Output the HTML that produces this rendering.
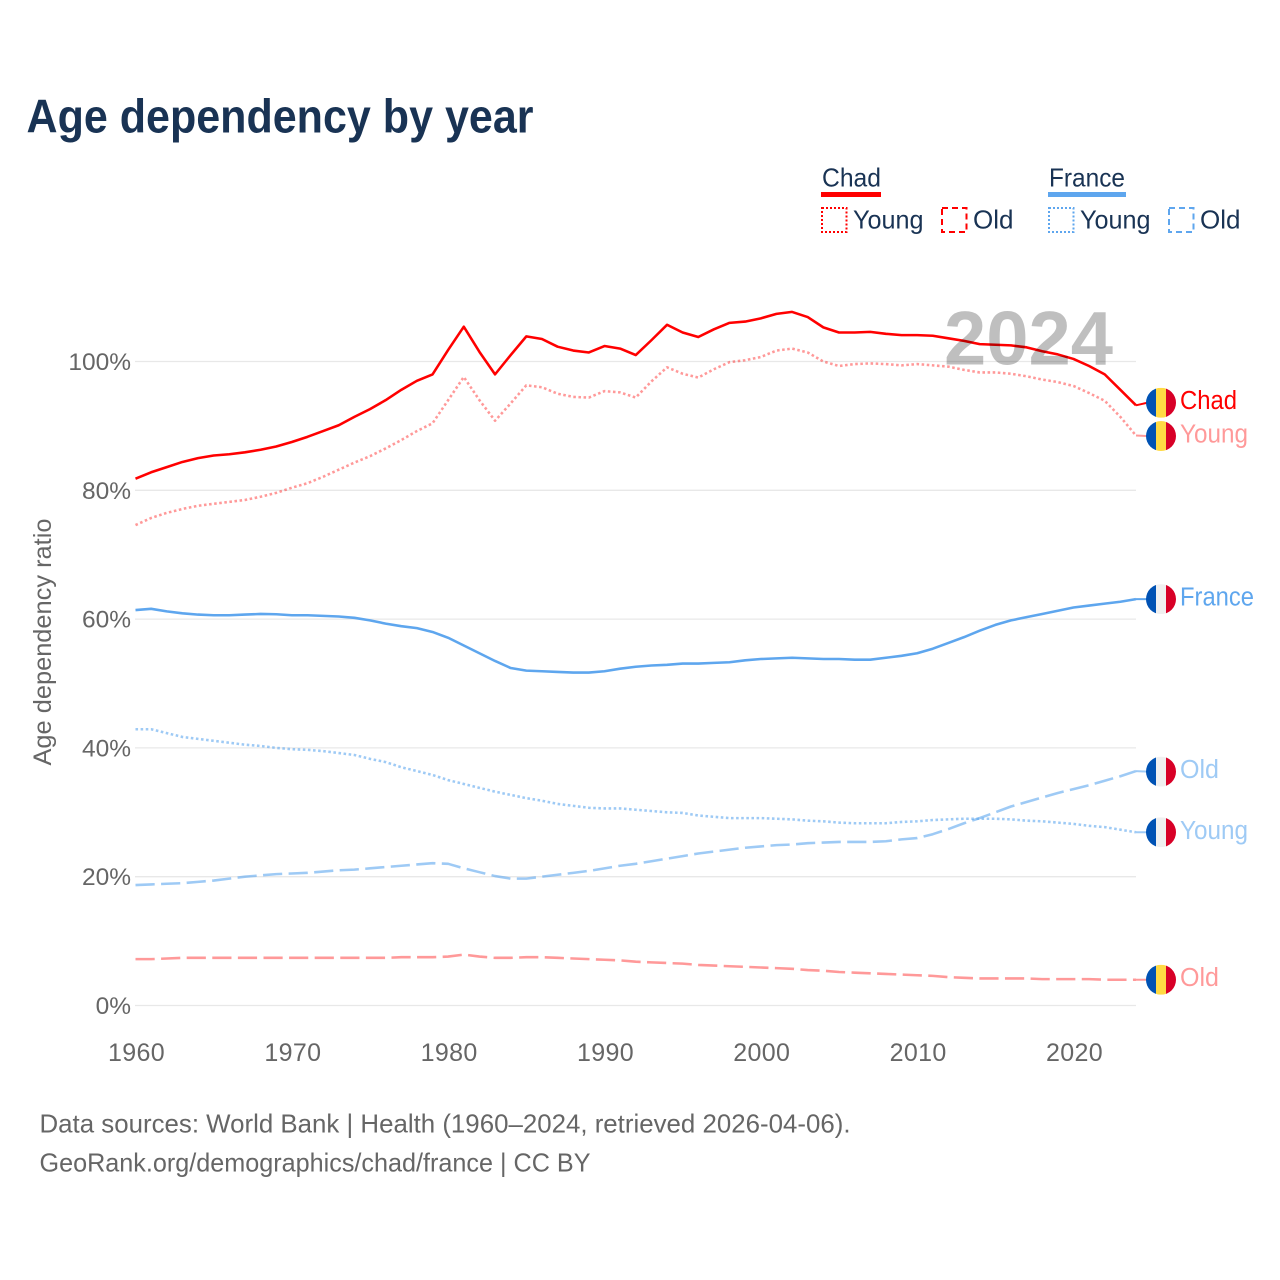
<!DOCTYPE html>
<html lang="en">
<head>
<meta charset="utf-8">
<title>Age dependency by year</title>
<style>
html,body{margin:0;padding:0;background:#fff;}
svg{display:block;font-family:"Liberation Sans",sans-serif;}
</style>
</head>
<body>
<svg id="chart" xmlns="http://www.w3.org/2000/svg" width="1280" height="1280" viewBox="0 0 1280 1280">
<rect width="1280" height="1280" fill="#ffffff"/>
<text x="26.5" y="132.5" font-size="47" font-weight="700" fill="#193354" textLength="507" lengthAdjust="spacingAndGlyphs">Age dependency by year</text>
<g font-size="26" fill="#193354">
  <text x="822" y="186.5" textLength="59" lengthAdjust="spacingAndGlyphs">Chad</text>
  <rect x="821" y="192" width="60" height="5" fill="#ff0000"/>
  <rect x="822" y="208" width="24.5" height="24" fill="none" stroke="#ff0000" stroke-width="2" stroke-dasharray="2 2"/>
  <text x="853" y="228.5" textLength="70.5" lengthAdjust="spacingAndGlyphs">Young</text>
  <rect x="942" y="208" width="24.5" height="24" fill="none" stroke="#ff0000" stroke-width="2" stroke-dasharray="6 4"/>
  <text x="973" y="228.5" textLength="40.5" lengthAdjust="spacingAndGlyphs">Old</text>
  <text x="1049" y="186.5" textLength="76" lengthAdjust="spacingAndGlyphs">France</text>
  <rect x="1048" y="192" width="78" height="5" fill="#5ea6ee"/>
  <rect x="1049" y="208" width="24.5" height="24" fill="none" stroke="#5ea6ee" stroke-width="2" stroke-dasharray="2 2"/>
  <text x="1080" y="228.5" textLength="70.5" lengthAdjust="spacingAndGlyphs">Young</text>
  <rect x="1169" y="208" width="24.5" height="24" fill="none" stroke="#5ea6ee" stroke-width="2" stroke-dasharray="6 4"/>
  <text x="1200" y="228.5" textLength="40.5" lengthAdjust="spacingAndGlyphs">Old</text>
</g>
<g id="grid"></g>
<g id="ylabels"></g>
<g id="xlabels"></g>
<text transform="translate(51,642) rotate(-90)" text-anchor="middle" font-size="25" fill="#666666" textLength="247" lengthAdjust="spacingAndGlyphs">Age dependency ratio</text>
<g id="series"></g>
<text x="944" y="364.5" font-size="76" font-weight="700" fill="#000000" fill-opacity="0.25">2024</text>
<g id="labels"></g>
<text x="39.5" y="1132.5" font-size="26" fill="#666666" textLength="811" lengthAdjust="spacingAndGlyphs">Data sources: World Bank | Health (1960–2024, retrieved 2026-04-06).</text>
<text x="39.5" y="1171.5" font-size="26" fill="#666666" textLength="551" lengthAdjust="spacingAndGlyphs">GeoRank.org/demographics/chad/france | CC BY</text>
</svg>
<script>
const years = [1960,1961,1962,1963,1964,1965,1966,1967,1968,1969,
  1970,1971,1972,1973,1974,1975,1976,1977,1978,1979,
  1980,1981,1982,1983,1984,1985,1986,1987,1988,1989,
  1990,1991,1992,1993,1994,1995,1996,1997,1998,1999,
  2000,2001,2002,2003,2004,2005,2006,2007,2008,2009,
  2010,2011,2012,2013,2014,2015,2016,2017,2018,2019,
  2020,2021,2022,2023,2024];
const chadTotal = [81.8,82.8,83.6,84.4,85.0,85.4,85.6,85.9,86.3,86.8,
  87.5,88.3,89.2,90.1,91.4,92.6,94.0,95.6,97.0,98.0,
  101.8,105.4,101.5,98.0,101.0,103.9,103.5,102.3,101.7,101.4,
  102.4,102.0,101.0,103.3,105.7,104.5,103.8,105.0,106.0,106.2,
  106.7,107.4,107.7,106.9,105.3,104.5,104.5,104.6,104.3,104.1,
  104.1,104.0,103.6,103.2,102.7,102.6,102.5,102.2,101.6,101.1,
  100.4,99.3,98.0,95.6,93.2];
const chadYoung = [74.6,75.7,76.5,77.1,77.6,77.9,78.2,78.5,79.0,79.6,
  80.4,81.1,82.1,83.2,84.3,85.3,86.5,87.8,89.2,90.4,
  94.0,97.6,94.0,90.8,93.5,96.3,96.0,95.0,94.5,94.4,
  95.4,95.2,94.4,96.9,99.1,98.1,97.5,98.8,99.9,100.2,
  100.7,101.7,102.0,101.4,100.0,99.3,99.6,99.7,99.6,99.4,
  99.6,99.4,99.2,98.7,98.3,98.3,98.1,97.7,97.2,96.8,
  96.2,95.1,93.9,91.4,88.5];
const chadOld = [7.2,7.2,7.3,7.4,7.4,7.4,7.4,7.4,7.4,7.4,
  7.4,7.4,7.4,7.4,7.4,7.4,7.4,7.5,7.5,7.5,
  7.6,7.9,7.6,7.4,7.4,7.5,7.5,7.4,7.3,7.2,
  7.1,7.0,6.8,6.7,6.6,6.5,6.3,6.2,6.1,6.0,
  5.9,5.8,5.7,5.5,5.4,5.2,5.1,5.0,4.9,4.8,
  4.7,4.6,4.4,4.3,4.2,4.2,4.2,4.2,4.1,4.1,
  4.1,4.1,4.0,4.0,4.0];
const franceTotal = [61.4,61.6,61.2,60.9,60.7,60.6,60.6,60.7,60.8,60.75,
  60.6,60.6,60.5,60.4,60.2,59.8,59.3,58.9,58.6,58.0,
  57.1,55.9,54.7,53.5,52.4,52.0,51.9,51.8,51.7,51.7,
  51.9,52.3,52.6,52.8,52.9,53.1,53.1,53.2,53.3,53.6,
  53.8,53.9,54.0,53.9,53.8,53.8,53.7,53.7,54.0,54.3,
  54.7,55.4,56.3,57.2,58.2,59.1,59.8,60.3,60.8,61.3,
  61.8,62.1,62.4,62.7,63.1];
const franceYoung = [42.9,42.9,42.3,41.7,41.4,41.1,40.8,40.5,40.3,40.0,
  39.8,39.7,39.5,39.2,38.9,38.3,37.8,37.0,36.4,35.8,
  35.0,34.4,33.8,33.2,32.7,32.2,31.8,31.3,31.0,30.7,
  30.6,30.6,30.4,30.2,30.0,29.9,29.5,29.3,29.1,29.1,
  29.1,29.0,28.9,28.7,28.6,28.4,28.3,28.3,28.3,28.5,
  28.6,28.8,28.9,29.0,29.0,29.0,28.9,28.7,28.6,28.4,
  28.2,27.9,27.7,27.3,26.9];
const franceOld = [18.7,18.8,18.9,19.0,19.2,19.4,19.7,20.0,20.2,20.4,
  20.5,20.6,20.8,21.0,21.1,21.3,21.5,21.7,21.9,22.1,
  22.0,21.3,20.7,20.1,19.7,19.7,20.0,20.3,20.6,20.9,
  21.3,21.7,22.0,22.4,22.8,23.2,23.6,23.9,24.2,24.5,
  24.7,24.9,25.0,25.2,25.3,25.4,25.4,25.4,25.5,25.8,
  26.0,26.6,27.4,28.3,29.1,30.0,30.9,31.6,32.3,33.0,
  33.6,34.2,34.9,35.6,36.4];
const yTicks = [0,20,40,60,80,100];
const yTickLabels = ["0%","20%","40%","60%","80%","100%"];
const xTicks = [1960,1970,1980,1990,2000,2010,2020];
const xTickLabels = ["1960","1970","1980","1990","2000","2010","2020"];

const NS = "http://www.w3.org/2000/svg";
const RED = "#ff0000";
const BLUE = "#5ea6ee";
const DOTS = "2.56 2.56";
const DASHES = "19.2 6.4";
const LINE_W = 2.56;
const xScale = v => 135.5 + (v - 1960) * (1136 - 135.5) / 64;
const yScale = v => 1005.5 - v * 6.44;

function make(tag, parent, attrs) {
  const el = document.createElementNS(NS, tag);
  for (const k in attrs) el.setAttribute(k, attrs[k]);
  parent.appendChild(el);
  return el;
}

const grid = document.getElementById("grid");
const yl = document.getElementById("ylabels");
yTicks.forEach((t, i) => {
  const line = make("line", grid, {x1: 135, x2: 1136, y1: yScale(t), y2: yScale(t), stroke: "#e8e8e8", "stroke-width": 1.3});
  
  
  const lab = make("text", yl, {x: 131, y: yScale(t) + 8.5, "text-anchor": "end", "font-size": 24.5, fill: "#666666"});
  
  
  lab.textContent = yTickLabels[i];
});
const xl = document.getElementById("xlabels");
xTicks.forEach((t, i) => {
  const lab = make("text", xl, {x: xScale(t) + 1, y: 1061, "text-anchor": "middle", "font-size": 25, fill: "#666666", "letter-spacing": "0.35"});
  
  
  lab.textContent = xTickLabels[i];
});

const seriesGroup = document.getElementById("series");
const labelGroup = document.getElementById("labels");

function drawLine(values, color, opacity, dash, width) {
  const pts = values.map((v, i) => xScale(years[i]).toFixed(2) + "," + yScale(v).toFixed(2)).join(" ");
  const line = make("polyline", seriesGroup, {points: pts, fill: "none", stroke: color, "stroke-opacity": opacity, "stroke-width": width, "stroke-linejoin": "round"});
  if (dash) line.setAttribute("stroke-dasharray", dash);
  return line;
}
function drawLeader(values, color, opacity, width, shift) {
  const y0 = yScale(values[values.length - 1]);
  const leader = make("line", seriesGroup, {x1: 1136, y1: y0, x2: 1147, y2: y0 + shift, stroke: color, "stroke-opacity": opacity, "stroke-width": width});
  return leader;
}
function drawFlag(cy, colors, clipId) {
  const g = make("g", labelGroup, {});
  const clip = make("clipPath", g, {id: clipId});
  make("circle", clip, {cx: 1161, cy: cy, r: 15});
  const sw = 10;
  colors.forEach((c, i) => {
    make("rect", g, {x: 1146 + i * sw, y: cy - 15, width: sw, height: 30, fill: c, "clip-path": "url(#" + clipId + ")"});
  });
  return g;
}
function drawLabel(cy, text, color, opacity, len) {
  const t = make("text", labelGroup, {x: 1180, y: cy + 6.5, "font-size": 25.5, fill: color, "fill-opacity": opacity, textLength: len, lengthAdjust: "spacingAndGlyphs"});
  t.textContent = text;
  return t;
}
const CHAD_FLAG = ["#0052b4", "#ffda44", "#d80027"];
const FR_FLAG = ["#0052b4", "#f0f0f0", "#d80027"];

/* Chad young (dotted) */
const l1 = drawLine(chadYoung, RED, 0.4, DOTS, LINE_W);


const ld1 = drawLeader(chadYoung, RED, 0.4, 2, 0.5);



/* Chad old (dashed) */
const l2 = drawLine(chadOld, RED, 0.4, DASHES, LINE_W);


const ld2 = drawLeader(chadOld, RED, 0.4, 2, 0);



/* France young (dotted) */
const l3 = drawLine(franceYoung, BLUE, 0.6, DOTS, LINE_W);


const ld3 = drawLeader(franceYoung, BLUE, 0.6, 2, 0);



/* France old (dashed) */
const l4 = drawLine(franceOld, BLUE, 0.6, DASHES, LINE_W);


const ld4 = drawLeader(franceOld, BLUE, 0.6, 2, 0.5);



/* France total */
const l5 = drawLine(franceTotal, BLUE, 1, null, LINE_W);


const ld5 = drawLeader(franceTotal, BLUE, 1, 2, 0);



/* Chad total */
const l6 = drawLine(chadTotal, RED, 1, null, LINE_W);


const ld6 = drawLeader(chadTotal, RED, 1, 2, -2.5);



const endY = a => yScale(a[a.length - 1]);

const f1 = drawFlag(endY(chadTotal) - 2.5, CHAD_FLAG, "clip-a");


const t1 = drawLabel(endY(chadTotal) - 3, "Chad", RED, 1, 57);



const f2 = drawFlag(endY(chadYoung) + 0.5, CHAD_FLAG, "clip-b");


const t2 = drawLabel(endY(chadYoung) + 0.5, "Young", RED, 0.4, 68);



const f3 = drawFlag(endY(franceTotal), FR_FLAG, "clip-c");


const t3 = drawLabel(endY(franceTotal), "France", BLUE, 1, 74);



const f4 = drawFlag(endY(franceOld) + 0.5, FR_FLAG, "clip-d");


const t4 = drawLabel(endY(franceOld) + 0.5, "Old", BLUE, 0.6, 39);



const f5 = drawFlag(endY(franceYoung), FR_FLAG, "clip-e");


const t5 = drawLabel(endY(franceYoung), "Young", BLUE, 0.6, 68);



const f6 = drawFlag(endY(chadOld), CHAD_FLAG, "clip-f");


const t6 = drawLabel(endY(chadOld), "Old", RED, 0.4, 39);


</script>
</body>
</html>
